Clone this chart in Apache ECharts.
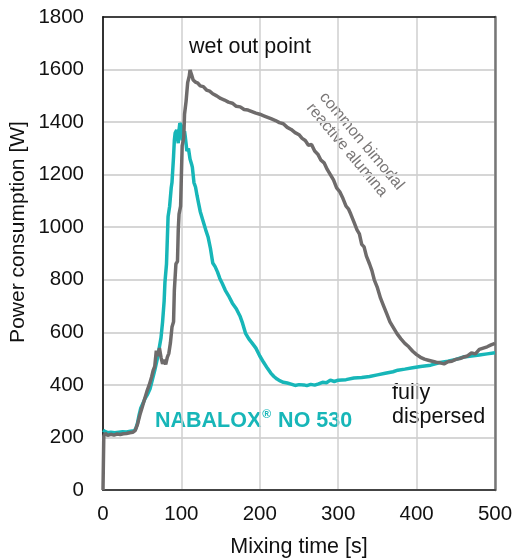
<!DOCTYPE html>
<html>
<head>
<meta charset="utf-8">
<script src="https://cdn.jsdelivr.net/npm/echarts@6/dist/echarts.min.js"></script>
<style>
  html, body { margin: 0; padding: 0; background: #fff; }
  #chart { width: 515px; height: 560px; }
</style>
</head>
<body>
<div id="chart"></div>
<script>
// common bimodal reactive alumina (grey)
var greyTime = [0, 1, 3, 6, 10, 14, 18, 22, 26, 30, 34, 38, 41, 44, 47, 50, 53, 56, 59, 62, 64, 66, 68, 70, 72, 74, 76, 78, 80, 82, 84, 86, 88, 90, 91, 93, 95, 96, 97, 99, 100, 101, 103, 104, 106, 108, 110, 111, 113, 115, 118, 121, 124, 128, 132, 136, 140, 145, 150, 155, 160, 165, 170, 175, 180, 185, 190, 195, 200, 205, 210, 215, 220, 225, 230, 235, 240, 245, 250, 254, 258, 262, 266, 270, 274, 278, 282, 286, 290, 294, 298, 302, 306, 310, 313, 316, 320, 324, 327, 330, 333, 336, 340, 343, 346, 350, 354, 358, 362, 366, 370, 375, 380, 385, 390, 395, 400, 405, 410, 415, 420, 425, 430, 435, 440, 445, 450, 455, 460, 465, 470, 475, 480, 485, 490, 495, 500];
var greyPower = [0, 205, 215, 208, 212, 209, 213, 211, 214, 215, 218, 220, 226, 250, 285, 315, 345, 375, 400, 430, 455, 470, 530, 510, 540, 505, 480, 495, 478, 505, 520, 560, 620, 640, 760, 860, 870, 990, 1050, 1080, 1200, 1310, 1340, 1430, 1480, 1550, 1575, 1598, 1580, 1560, 1552, 1548, 1538, 1535, 1522, 1518, 1508, 1500, 1490, 1484, 1476, 1472, 1460, 1458, 1448, 1446, 1440, 1434, 1430, 1424, 1418, 1412, 1406, 1398, 1394, 1380, 1372, 1360, 1352, 1338, 1330, 1312, 1315, 1290, 1278, 1255, 1245, 1220, 1200, 1180, 1150, 1135, 1110, 1080, 1070, 1050, 1020, 990, 975, 935, 925, 890, 860, 835, 800, 770, 730, 700, 670, 640, 620, 595, 575, 558, 545, 528, 515, 505, 498, 494, 490, 486, 484, 480, 488, 490, 497, 500, 506, 510, 522, 518, 535, 540, 545, 552, 558];

// NABALOX NO 530 (teal)
var tealTime = [0, 3, 6, 10, 15, 20, 25, 30, 35, 40, 42, 44, 46, 48, 51, 54, 57, 60, 63, 66, 69, 72, 74, 76, 78, 79, 81, 83, 85, 87, 88, 90, 91, 92, 94, 95, 96, 97, 98, 100, 101, 102, 104, 105, 107, 109, 111, 113, 114, 116, 118, 120, 122, 124, 126, 128, 131, 134, 137, 140, 143, 146, 149, 152, 156, 160, 165, 170, 175, 178, 182, 186, 190, 195, 200, 205, 210, 214, 218, 222, 226, 230, 235, 240, 245, 250, 256, 260, 265, 270, 275, 280, 285, 290, 295, 300, 310, 320, 330, 340, 350, 360, 370, 376, 385, 395, 405, 418, 430, 440, 450, 460, 470, 480, 490, 500];
var tealPower = [228, 222, 218, 220, 218, 220, 222, 221, 224, 226, 235, 255, 285, 310, 330, 350, 365, 385, 420, 455, 495, 545, 580, 640, 720, 790, 860, 1040, 1080, 1150, 1170, 1270, 1330, 1358, 1370, 1340, 1320, 1370, 1396, 1385, 1330, 1340, 1365, 1343, 1290, 1300, 1260, 1240, 1228, 1170, 1153, 1120, 1090, 1060, 1040, 1020, 990, 963, 920, 864, 850, 830, 805, 787, 760, 740, 711, 690, 660, 635, 595, 575, 560, 540, 510, 485, 462, 445, 432, 422, 415, 410, 407, 403, 398, 401, 400, 397, 402, 399, 404, 410, 408, 418, 413, 418, 420, 426, 428, 432, 438, 444, 450, 456, 460, 465, 470, 475, 485, 490, 497, 506, 510, 514, 518, 522];

var xTicks = [0, 100, 200, 300, 400, 500];
var yTicks = [0, 200, 400, 600, 800, 1000, 1200, 1400, 1600, 1800];

var greyColor = "#6e6b6b";
var tealColor = "#17b6b8";
var font = "Liberation Sans, Arial, sans-serif";

function pairs(t, v) {
  return t.map(function(x, i) { return [x, v[i]]; });
}

var chart = echarts.init(document.getElementById("chart"));
var option = {
  animation: false,
  grid: { left: 103, right: 20, top: 17, bottom: 70, containLabel: false, outerBoundsMode: "none" },
  xAxis: [
    {
      type: "value",
      min: xTicks[0],
      max: xTicks[xTicks.length - 1],
      interval: 100,
      name: "Mixing time [s]",
      nameLocation: "middle",
      nameGap: 46,
      nameTextStyle: { fontFamily: font, fontSize: 21.5, color: "#111" },
      axisLine: { show: true, lineStyle: { color: "#444", width: 2 } },
      axisTick: { show: false },
      axisLabel: { fontFamily: font, fontSize: 20.5, color: "#111", margin: 14 },
      splitLine: { show: true, lineStyle: { color: "#cfcfcf", width: 1.5 } }
    },
    {
      type: "value",
      position: "top",
      min: 0,
      max: 500,
      axisLine: { show: true, onZero: false, lineStyle: { color: "#111", width: 1.5 } },
      axisTick: { show: false },
      axisLabel: { show: false },
      splitLine: { show: false }
    }
  ],
  yAxis: [
    {
      type: "value",
      min: yTicks[0],
      max: yTicks[yTicks.length - 1],
      interval: 200,
      axisLine: { show: true, lineStyle: { color: "#333", width: 2 } },
      axisTick: { show: false },
      axisLabel: {
        fontFamily: font, fontSize: 20.5, color: "#111", margin: 19,
        formatter: function(v) { return String(v); }
      },
      splitLine: { show: true, lineStyle: { color: "#d6d6d6", width: 2 } }
    },
    {
      type: "value",
      position: "right",
      min: 0,
      max: 1800,
      axisLine: { show: true, onZero: false, lineStyle: { color: "#777", width: 2.5 } },
      axisTick: { show: false },
      axisLabel: { show: false },
      splitLine: { show: false }
    }
  ],
  series: [
    {
      name: "common bimodal reactive alumina",
      type: "line",
      data: pairs(greyTime, greyPower),
      showSymbol: false,
      lineStyle: { color: greyColor, width: 3.5 },
      z: 3
    },
    {
      name: "NABALOX NO 530",
      type: "line",
      data: pairs(tealTime, tealPower),
      showSymbol: false,
      lineStyle: { color: tealColor, width: 3.5 },
      z: 2
    }
  ],
  graphic: [
    {
      type: "text",
      x: 18, y: 232,
      rotation: Math.PI / 2,
      style: { text: "Power consumption [W]", fontFamily: font, fontSize: 21, fill: "#111", textAlign: "center", textVerticalAlign: "middle" }
    },
    {
      type: "text",
      x: 189, y: 47,
      style: { text: "wet out point", fontFamily: font, fontSize: 21.5, fill: "#111", textAlign: "left", textVerticalAlign: "middle" }
    },
    {
      type: "text",
      x: 329, y: 89,
      rotation: -50 * Math.PI / 180,
      style: { text: "common bimodal\nreactive alumina", fontFamily: font, fontSize: 16, lineHeight: 17, fill: "#7a7777", textAlign: "left", textVerticalAlign: "top" }
    },
    {
      type: "text",
      x: 155, y: 421,
      style: {
        text: "{a|NABALOX}{s|®}{a| NO 530}",
        textVerticalAlign: "middle",
        rich: {
          a: { fontFamily: font, fontSize: 21.5, fontWeight: "bold", fill: tealColor, color: tealColor },
          s: { fontFamily: font, fontSize: 12, fontWeight: "bold", fill: tealColor, color: tealColor, padding: [0, 1, 12, 1] }
        }
      }
    },
    {
      type: "text",
      x: 392, y: 405,
      style: { text: "fully\ndispersed", fontFamily: font, fontSize: 21.5, lineHeight: 24, fill: "#111", textAlign: "left", textVerticalAlign: "middle" }
    }
  ]
};
chart.setOption(option);
window.addEventListener("resize", function() { chart.resize(); });
</script>
</body>
</html>
